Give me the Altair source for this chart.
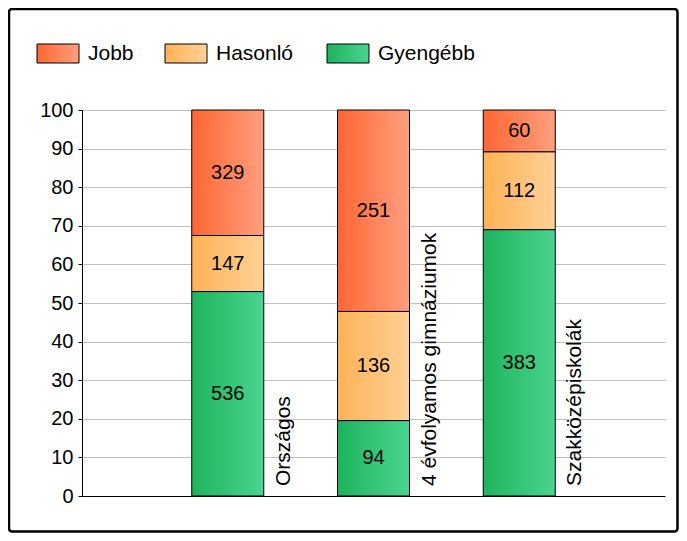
import altair as alt
import pandas as pd

categories = ["Országos", "4 évfolyamos gimnáziumok", "Szakközépiskolák"]
positions = [1, 2, 3]
series = ["Gyengébb", "Hasonló", "Jobb"]
gyengebb = [536, 94, 383]
hasonlo = [147, 136, 112]
jobb = [329, 251, 60]
y_ticks = list(range(0, 101, 10))

FONT = "Liberation Sans"
colors = {
    "Jobb": ("#FF6633", "#FF9F7E"),
    "Hasonló": ("#FFB257", "#FFD095"),
    "Gyengébb": ("#1EB35D", "#4AD490"),
}


def grad(s):
    a, b = colors[s]
    return alt.Gradient(gradient="linear", x1=0, x2=1, y1=0, y2=0,
                        stops=[alt.GradientStop(color=a, offset=0),
                               alt.GradientStop(color=b, offset=1)])


rows = []
for i, c in enumerate(categories):
    for j, (s, vals) in enumerate(zip(series, [gyengebb, hasonlo, jobb])):
        rows.append(dict(cat=c, pos=positions[i], series=s, order=j, count=vals[i]))
df = pd.DataFrame(rows)

xscale = alt.Scale(domain=[0, 4], nice=False, zero=False)
yscale = alt.Scale(domain=[0, 100], nice=False)

xaxis = alt.Axis(labels=False, ticks=False, grid=False, domain=True,
                 domainColor="black", domainWidth=1, title=None)
yaxis = alt.Axis(values=y_ticks, grid=True, gridColor="#c0c0c0", gridWidth=1,
                 domainColor="black", domainWidth=1, tickColor="black", tickSize=4,
                 labelFont=FONT, labelFontSize=20, labelColor="black",
                 labelPadding=5, title=None)

base = (
    alt.Chart(df)
    .transform_joinaggregate(total="sum(count)", groupby=["cat"])
    .transform_calculate(pct="datum.count / datum.total * 100")
    .transform_window(cum="sum(pct)", sort=[alt.SortField("order")],
                      groupby=["cat"], frame=[None, 0])
    .transform_calculate(y0="datum.cum - datum.pct",
                         ymid="datum.cum - datum.pct / 2",
                         xl="datum.pos - 0.247",
                         xr="datum.pos + 0.247",
                         lx="datum.pos + 0.385")
)

layers = []
for k, s in enumerate(series):
    layers.append(
        base.transform_filter(alt.datum.series == s)
        .mark_rect(fill=grad(s), stroke="black", strokeWidth=1)
        .encode(
            x=alt.X("xl:Q", scale=xscale, axis=xaxis),
            x2="xr:Q",
            y=alt.Y("y0:Q", scale=yscale, axis=yaxis),
            y2="cum:Q",
        )
    )

layers.append(
    base.mark_text(font=FONT, fontSize=20, color="black")
    .encode(x=alt.X("pos:Q", scale=xscale, axis=xaxis),
            y=alt.Y("ymid:Q", scale=yscale, axis=yaxis),
            text="count:Q")
)

layers.append(
    base.transform_filter(alt.datum.order == 0)
    .mark_text(font=FONT, fontSize=21, color="black", angle=270,
               align="left", baseline="middle", dx=10)
    .encode(x=alt.X("lx:Q", scale=xscale, axis=xaxis),
            y=alt.Y("y0:Q", scale=yscale, axis=yaxis),
            text="cat:N")
)

legend_order = ["Jobb", "Hasonló", "Gyengébb"]
legend_x = [-45, 83, 245]
for s, lx in zip(legend_order, legend_x):
    ld = pd.DataFrame({"s": [s]})
    layers.append(
        alt.Chart(ld).mark_rect(fill=grad(s), stroke="black", strokeWidth=1)
        .encode(x=alt.value(lx), x2=alt.value(lx + 42),
                y=alt.value(-66), y2=alt.value(-47))
    )
    layers.append(
        alt.Chart(ld).mark_text(font=FONT, fontSize=21, color="black",
                                align="left", baseline="middle")
        .encode(x=alt.value(lx + 51), y=alt.value(-56), text="s:N")
    )

layers.append(
    alt.Chart(pd.DataFrame({"b": [1]}))
    .mark_rect(fill=None, stroke="black", strokeWidth=2.5, cornerRadius=3)
    .encode(x=alt.value(-73), x2=alt.value(671 - 74 - 1.5),
            y=alt.value(-101), y2=alt.value(525 - 102 - 1.5))
)

chart = (
    alt.layer(*layers)
    .properties(width=583, height=386,
                padding={"left": 74, "top": 102, "right": 14, "bottom": 37},
                autosize=alt.AutoSizeParams(type="none"))
    .configure_view(stroke=None)
)

chart.save("out.html", embed_options={"renderer": "svg", "actions": False})
